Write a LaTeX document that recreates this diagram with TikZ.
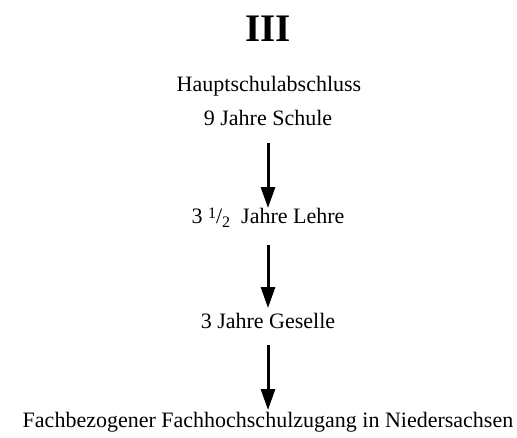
\documentclass[tikz,border=0pt]{standalone}
\usepackage{fontspec}
\setmainfont{Liberation Serif}
\usetikzlibrary{arrows.meta,positioning}

\begin{document}
\begin{tikzpicture}[x=1pt, y=-1pt, every node/.style={font=\fontsize{22}{24}\selectfont, inner sep=0pt},
    step arrow/.style={-{Triangle[length=21pt,width=14pt]}, line width=3pt}]
  \useasboundingbox (0,0) rectangle (517,437);
  \node (title) at (268,29) {\fontsize{39}{40}\selectfont\bfseries III};
  \node (hs) at (269,86) {Hauptschulabschluss};
  \node (schule) at (268,118) {9 Jahre Schule};
  \node (lehre) at (268,218) {3 \raisebox{0.45ex}{\fontsize{16}{16}\selectfont 1}/\raisebox{-0.45ex}{\fontsize{16}{16}\selectfont 2}\ \ Jahre Lehre};
  \node (geselle) at (268,321) {3 Jahre Geselle};
  \node (fh) at (268,422) {Fachbezogener Fachhochschulzugang in Niedersachsen};
  \draw[step arrow, shorten <=25pt, shorten >=10pt] (schule.center) -- (lehre.center);
  \draw[step arrow, shorten <=27pt, shorten >=13pt] (lehre.center) -- (geselle.center);
  \draw[step arrow, shorten <=24pt, shorten >=12pt] (geselle.center) -- (fh.center);
\end{tikzpicture}
\end{document}
